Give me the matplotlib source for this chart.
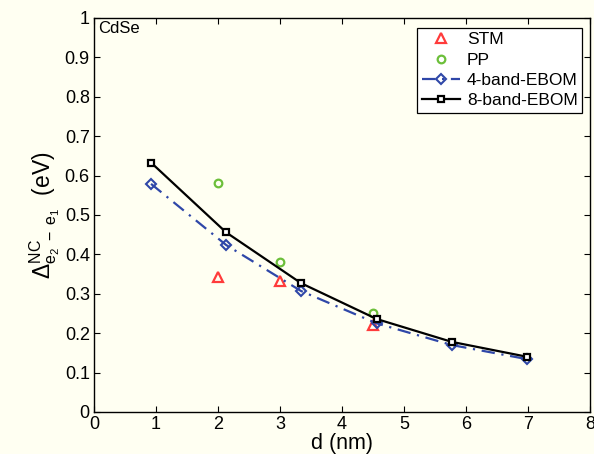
import matplotlib
matplotlib.use("Agg")
import matplotlib.pyplot as plt
from matplotlib.ticker import FixedLocator, FuncFormatter

plt.rcParams['font.family'] = ['Liberation Sans', 'DejaVu Sans']
plt.rcParams['mathtext.fontset'] = 'custom'
plt.rcParams['mathtext.rm'] = 'Liberation Sans'
plt.rcParams['mathtext.it'] = 'Liberation Sans'
plt.rcParams['mathtext.sf'] = 'Liberation Sans'

# Measured gaps
stm_d = [2.0, 3.0, 4.5]
stm_gap = [0.342, 0.332, 0.221]
pp_d = [2.0, 3.0, 4.5]
pp_gap = [0.580, 0.380, 0.252]

# Model gaps
ebom_d = [0.92, 2.13, 3.34, 4.56, 5.77, 6.99]
ebom4_gap = [0.579, 0.424, 0.307, 0.225, 0.170, 0.134]
ebom8_gap = [0.633, 0.456, 0.327, 0.236, 0.178, 0.140]

x_ticks = [0, 1, 2, 3, 4, 5, 6, 7, 8]
y_ticks = [0, 0.1, 0.2, 0.3, 0.4, 0.5, 0.6, 0.7, 0.8, 0.9, 1.0]

bg = '#fffff2'
fig = plt.figure(figsize=(5.94, 4.54), dpi=100, facecolor=bg)
ax = fig.add_axes([94/594, 1 - 412/454, (590-94)/594, (412-18)/454], facecolor=bg)

ax.plot(stm_d, stm_gap, linestyle='none', marker='^', markersize=6.5,
        markerfacecolor='none', markeredgecolor='#ff3b3b', markeredgewidth=1.6, label='STM')
ax.plot(pp_d, pp_gap, linestyle='none', marker='o', markersize=5.5,
        markerfacecolor='none', markeredgecolor='#6cbf3a', markeredgewidth=1.6, label='PP')
ax.plot(ebom_d, ebom4_gap, linestyle=(0, (6, 3, 1, 3)), color='#2f47a8', linewidth=1.6,
        marker='D', markersize=5, markerfacecolor='none', markeredgecolor='#2f47a8',
        markeredgewidth=1.5, label='4-band-EBOM')
ax.plot(ebom_d, ebom8_gap, linestyle='-', color='black', linewidth=1.6,
        marker='s', markersize=5, markerfacecolor='white', markeredgecolor='black',
        markeredgewidth=1.6, label='8-band-EBOM')

ax.set_xlim(0, 8)
ax.set_ylim(0, 1)
ax.xaxis.set_major_locator(FixedLocator(x_ticks))
ax.yaxis.set_major_locator(FixedLocator(y_ticks))
ax.yaxis.set_major_formatter(FuncFormatter(lambda v, p: '%g' % round(v, 2)))
ax.tick_params(direction='in', length=4, width=0.8, top=True, right=True,
               labelsize=13, pad=3)
for s in ax.spines.values():
    s.set_linewidth(1.0)

ax.set_xlabel('d (nm)', fontsize=15.5, labelpad=0)
ax.set_ylabel(r'$\Delta^{\mathrm{NC}}_{\mathrm{e_2\ -\ e_1}}$  (eV)', fontsize=16.5, labelpad=2)

ax.text(0.008, 0.992, 'CdSe', transform=ax.transAxes, ha='left', va='top', fontsize=12)

leg = ax.legend(loc='upper right', bbox_to_anchor=(0.991, 0.984), fontsize=12.5,
                frameon=True, fancybox=False, edgecolor='black', facecolor='white',
                framealpha=1, borderpad=0.25, labelspacing=0.3, handlelength=2.2,
                handletextpad=0.4, borderaxespad=0.2)
leg.get_frame().set_linewidth(0.9)

fig.savefig('out.png', dpi=100, facecolor=bg)
